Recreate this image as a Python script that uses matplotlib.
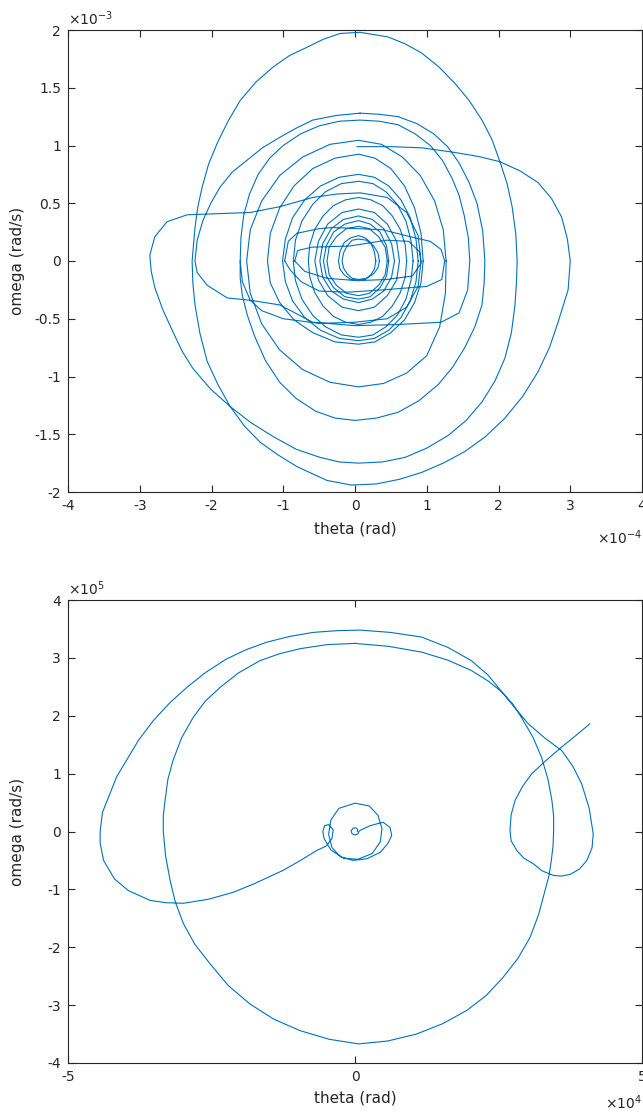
import numpy as np
import matplotlib
matplotlib.use('Agg')
import matplotlib.pyplot as plt
from matplotlib.ticker import FuncFormatter

plt.rcParams['axes.unicode_minus'] = False

# ---- top plot: theta in 1e-4 rad, omega in 1e-3 rad/s ----
top_outer = [(0.03, 0.99), (0.50, 0.99), (0.93, 0.98), (1.39, 0.94), (1.72, 0.905), (2.02, 0.86),
             (2.30, 0.78), (2.55, 0.68), (2.74, 0.54), (2.88, 0.38), (2.96, 0.19), (3.00, 0.00),
             (2.97, -0.25), (2.83, -0.53), (2.71, -0.75), (2.55, -0.96), (2.34, -1.17), (2.09, -1.36),
             (1.82, -1.52), (1.53, -1.65), (1.23, -1.75), (0.93, -1.83), (0.62, -1.89), (0.30, -1.93),
             (-0.05, -1.94), (-0.39, -1.90), (-0.81, -1.78), (-1.07, -1.68), (-1.32, -1.57),
             (-1.54, -1.43), (-1.74, -1.26), (-1.91, -1.07), (-2.06, -0.87), (-2.16, -0.63),
             (-2.23, -0.38), (-2.26, -0.19), (-2.27, 0.00), (-2.23, 0.29), (-2.19, 0.47), (-2.13, 0.64),
             (-2.04, 0.84), (-1.92, 1.02), (-1.77, 1.21), (-1.60, 1.39), (-1.38, 1.55), (-1.14, 1.68),
             (-0.91, 1.78), (-0.67, 1.85), (-0.44, 1.92), (-0.21, 1.97), (0.07, 1.98), (0.46, 1.94),
             (0.70, 1.88), (0.93, 1.80), (1.17, 1.68), (1.39, 1.54), (1.59, 1.39), (1.77, 1.22),
             (1.91, 1.05), (2.02, 0.86), (2.12, 0.67), (2.19, 0.47), (2.24, 0.24), (2.26, 0.00),
             (2.25, -0.19), (2.23, -0.38), (2.18, -0.62), (2.09, -0.84), (1.95, -1.04), (1.77, -1.22),
             (1.55, -1.38), (1.30, -1.51), (1.00, -1.62), (0.70, -1.70), (0.38, -1.74), (0.05, -1.75),
             (-0.22, -1.74), (-0.49, -1.70), (-0.82, -1.63), (-1.14, -1.52), (-1.45, -1.40),
             (-1.74, -1.26), (-2.01, -1.11), (-2.26, -0.93), (-2.41, -0.78), (-2.54, -0.61),
             (-2.68, -0.42), (-2.79, -0.23), (-2.84, -0.09), (-2.86, 0.05), (-2.79, 0.21),
             (-2.62, 0.34), (-2.34, 0.40), (-1.90, 0.41), (-1.46, 0.42), (-1.05, 0.47), (-0.59, 0.55),
             (-0.25, 0.58), (0.07, 0.59), (0.45, 0.55), (0.72, 0.42), (0.88, 0.22), (0.92, 0.00),
             (0.88, -0.22), (0.72, -0.40), (0.45, -0.50), (0.00, -0.53), (-0.50, -0.54),
             (-1.00, -0.50), (-1.30, -0.43), (-1.46, -0.34), (-1.57, -0.18), (-1.60, 0.00)]

top_b = [(0.07, 1.28), (0.34, 1.27), (0.60, 1.25), (0.86, 1.19), (1.10, 1.10), (1.29, 0.99),
         (1.45, 0.85), (1.59, 0.68), (1.70, 0.50), (1.78, 0.26), (1.81, 0.00), (1.80, -0.19),
         (1.77, -0.38), (1.67, -0.57), (1.53, -0.75), (1.36, -0.92), (1.16, -1.07), (0.89, -1.21),
         (0.60, -1.31), (0.30, -1.36), (0.00, -1.38), (-0.28, -1.36), (-0.55, -1.30), (-0.82, -1.19),
         (-1.05, -1.05), (-1.25, -0.86), (-1.40, -0.65), (-1.50, -0.47), (-1.57, -0.30),
         (-1.60, -0.15), (-1.60, 0.00), (-1.59, 0.20), (-1.55, 0.40), (-1.47, 0.58), (-1.35, 0.75),
         (-1.19, 0.89), (-1.00, 1.00), (-0.76, 1.10), (-0.50, 1.17), (-0.22, 1.21), (0.07, 1.22),
         (0.34, 1.21), (0.60, 1.18), (0.84, 1.10), (1.05, 1.00), (1.22, 0.87), (1.35, 0.72),
         (1.45, 0.57), (1.52, 0.40), (1.58, 0.20), (1.60, 0.00), (1.57, -0.25), (1.45, -0.45),
         (1.20, -0.53), (0.60, -0.55), (0.00, -0.56), (-0.59, -0.53), (-1.05, -0.38),
         (-1.46, -0.34), (-1.78, -0.32), (-2.06, -0.21), (-2.20, -0.10), (-2.23, 0.00),
         (-2.20, 0.18), (-2.12, 0.35), (-2.01, 0.50), (-1.88, 0.64), (-1.71, 0.77), (-1.51, 0.87),
         (-1.29, 0.98), (-1.05, 1.07), (-0.82, 1.15), (-0.59, 1.22), (-0.26, 1.26), (0.07, 1.28)]

top_c = [(1.27, 0.00), (1.23, 0.27), (1.11, 0.52), (0.91, 0.74), (0.66, 0.90), (0.37, 1.01),
         (0.05, 1.045), (-0.35, 1.01), (-0.73, 0.90), (-1.05, 0.74), (-1.30, 0.52), (-1.46, 0.27),
         (-1.51, 0.00), (-1.46, -0.28), (-1.30, -0.545), (-1.05, -0.77), (-0.73, -0.94),
         (-0.35, -1.05), (0.05, -1.09), (0.40, -1.06), (0.72, -0.97), (1.00, -0.82), (1.18, -0.57),
         (1.26, -0.28), (1.27, 0.00)]

top_d = [(0.95, 0.00), (0.92, 0.24), (0.83, 0.46), (0.69, 0.65), (0.50, 0.80), (0.28, 0.89),
         (0.05, 0.925), (-0.28, 0.89), (-0.59, 0.80), (-0.85, 0.65), (-1.05, 0.46), (-1.18, 0.24),
         (-1.22, 0.00), (-1.18, -0.19), (-1.05, -0.36), (-0.85, -0.51), (-0.59, -0.62),
         (-0.28, -0.70), (0.05, -0.72), (0.28, -0.70), (0.50, -0.62), (0.69, -0.51), (0.83, -0.36),
         (0.92, -0.19), (0.95, 0.00)]

top_e = [(0.88, 0.00), (0.85, 0.19), (0.77, 0.375), (0.64, 0.53), (0.47, 0.65), (0.27, 0.725),
         (0.05, 0.75), (-0.22, 0.725), (-0.48, 0.65), (-0.70, 0.53), (-0.87, 0.375), (-0.97, 0.19),
         (-1.01, 0.00), (-0.97, -0.18), (-0.87, -0.345), (-0.70, -0.49), (-0.48, -0.60),
         (-0.22, -0.67), (0.05, -0.69), (0.27, -0.67), (0.47, -0.60), (0.64, -0.49), (0.77, -0.345),
         (0.85, -0.18), (0.88, 0.00)]

top_f = [(0.81, 0.00), (0.78, 0.18), (0.71, 0.345), (0.59, 0.49), (0.43, 0.60), (0.25, 0.67),
         (0.05, 0.69), (-0.19, 0.67), (-0.41, 0.60), (-0.59, 0.49), (-0.74, 0.345), (-0.83, 0.18),
         (-0.86, 0.00), (-0.83, -0.17), (-0.74, -0.33), (-0.59, -0.47), (-0.41, -0.57),
         (-0.19, -0.64), (0.05, -0.66), (0.25, -0.64), (0.43, -0.57), (0.59, -0.47), (0.71, -0.33),
         (0.78, -0.17), (0.81, 0.00)]

top_f2 = [(0.72, 0.00), (0.70, 0.14), (0.63, 0.275), (0.52, 0.39), (0.385, 0.48), (0.22, 0.53),
          (0.05, 0.55), (-0.13, 0.53), (-0.30, 0.48), (-0.445, 0.39), (-0.56, 0.275), (-0.63, 0.14),
          (-0.65, 0.00), (-0.63, -0.14), (-0.56, -0.275), (-0.445, -0.39), (-0.30, -0.48),
          (-0.13, -0.53), (0.05, -0.55), (0.22, -0.53), (0.385, -0.48), (0.52, -0.39),
          (0.63, -0.275), (0.70, -0.14), (0.72, 0.00)]

top_g0 = [(0.62, 0.00), (0.58, 0.17), (0.45, 0.32), (0.27, 0.42), (0.05, 0.45), (-0.18, 0.42),
          (-0.38, 0.32), (-0.51, 0.17), (-0.56, 0.00), (-0.51, -0.165), (-0.38, -0.30), (-0.18, -0.40),
          (0.05, -0.43), (0.27, -0.40), (0.45, -0.30), (0.58, -0.165), (0.62, 0.00)]

top_g1 = [(0.55, 0.00), (0.51, 0.15), (0.40, 0.28), (0.24, 0.36), (0.05, 0.39), (-0.16, 0.36),
          (-0.33, 0.28), (-0.45, 0.15), (-0.49, 0.00), (-0.45, -0.14), (-0.33, -0.26), (-0.16, -0.33),
          (0.05, -0.36), (0.24, -0.33), (0.40, -0.26), (0.51, -0.14), (0.55, 0.00)]

top_g2 = [(0.47, 0.00), (0.44, 0.13), (0.35, 0.25), (0.21, 0.32), (0.05, 0.35), (-0.14, 0.32),
          (-0.30, 0.25), (-0.40, 0.13), (-0.44, 0.00), (-0.40, -0.13), (-0.30, -0.23), (-0.14, -0.31),
          (0.05, -0.33), (0.21, -0.31), (0.35, -0.23), (0.44, -0.13), (0.47, 0.00)]

top_g3 = [(0.45, 0.00), (0.42, 0.12), (0.33, 0.21), (0.20, 0.28), (0.05, 0.30), (-0.12, 0.28),
          (-0.26, 0.21), (-0.36, 0.12), (-0.39, 0.00), (-0.36, -0.12), (-0.26, -0.21), (-0.12, -0.28),
          (0.05, -0.30), (0.20, -0.28), (0.33, -0.21), (0.42, -0.12), (0.45, 0.00)]

top_h1 = [(0.29, 0.00), (0.27, 0.08), (0.22, 0.16), (0.14, 0.20), (0.05, 0.22), (-0.06, 0.20),
          (-0.15, 0.16), (-0.21, 0.08), (-0.23, 0.00), (-0.21, -0.07), (-0.15, -0.12), (-0.06, -0.16),
          (0.05, -0.17), (0.14, -0.16), (0.22, -0.12), (0.27, -0.07), (0.29, 0.00)]

top_h2 = [(0.34, 0.00), (0.32, 0.07), (0.26, 0.13), (0.16, 0.18), (0.05, 0.19), (-0.04, 0.18),
          (-0.11, 0.13), (-0.16, 0.07), (-0.18, 0.00), (-0.16, -0.06), (-0.11, -0.11), (-0.04, -0.15),
          (0.05, -0.16), (0.16, -0.15), (0.26, -0.11), (0.32, -0.06), (0.34, 0.00)]

top_r1 = [(-0.98, 0.00), (-0.93, 0.17), (-0.81, 0.24), (-0.50, 0.28), (-0.31, 0.29), (0.39, 0.27),
          (0.77, 0.21), (1.05, 0.17), (1.20, 0.10), (1.25, 0.00), (1.21, -0.16), (1.00, -0.22),
          (0.39, -0.25), (-0.10, -0.27), (-0.50, -0.26), (-0.75, -0.18), (-0.90, -0.08), (-0.98, 0.00)]

top_r2 = [(-0.84, 0.00), (-0.80, 0.09), (-0.60, 0.12), (-0.07, 0.13), (0.44, 0.18), (0.75, 0.17),
          (0.90, 0.08), (0.92, -0.02), (0.80, -0.13), (0.44, -0.16), (0.03, -0.17), (-0.39, -0.15),
          (-0.70, -0.09), (-0.84, 0.00)]

top_curves = [top_outer, top_b, top_c, top_d, top_e, top_f, top_f2, top_g0,
              top_g1, top_g2, top_g3, top_h1, top_h2, top_r1, top_r2]

# ---- bottom plot: theta in 1e4 rad, omega in 1e5 rad/s ----
bot_path = [(0.04, 0.00), (0.05, 0.03), (0.02, 0.06), (-0.03, 0.06), (-0.07, 0.01), (-0.05, -0.04),
            (0.00, -0.06), (0.05, -0.04), (0.07, 0.00), (0.09, 0.02), (0.26, 0.10), (0.49, 0.16),
            (0.61, 0.07), (0.64, -0.07), (0.57, -0.21), (0.44, -0.36), (0.21, -0.47), (-0.03, -0.50),
            (-0.25, -0.44), (-0.40, -0.28), (-0.46, -0.05), (-0.42, 0.20), (-0.28, 0.40), (0.00, 0.49),
            (0.25, 0.44), (0.40, 0.28), (0.47, 0.05), (0.44, -0.18), (0.30, -0.38), (0.05, -0.48),
            (-0.20, -0.46), (-0.42, -0.32), (-0.54, -0.12), (-0.56, 0.00), (-0.53, 0.10),
            (-0.46, 0.12), (-0.38, 0.03), (-0.40, -0.12), (-0.50, -0.25), (-0.67, -0.33),
            (-0.95, -0.50), (-1.25, -0.67), (-1.75, -0.90), (-2.12, -1.05), (-2.55, -1.17),
            (-2.99, -1.24), (-3.30, -1.23), (-3.57, -1.19), (-3.95, -1.02), (-4.19, -0.82),
            (-4.38, -0.50), (-4.44, -0.20), (-4.44, 0.00), (-4.40, 0.33), (-4.27, 0.65),
            (-4.15, 0.95), (-3.98, 1.23), (-3.77, 1.58), (-3.51, 1.92), (-3.23, 2.22), (-2.93, 2.49),
            (-2.60, 2.75), (-2.24, 2.98), (-1.90, 3.14), (-1.54, 3.27), (-1.14, 3.37), (-0.73, 3.44),
            (-0.32, 3.47), (0.09, 3.48), (0.62, 3.44), (1.16, 3.36), (1.62, 3.18), (2.03, 2.95),
            (2.32, 2.70), (2.56, 2.41), (2.80, 2.12), (3.02, 1.86), (3.30, 1.62), (3.60, 1.40),
            (3.80, 1.12), (3.95, 0.82), (4.08, 0.40), (4.15, -0.04), (4.13, -0.28), (4.04, -0.50),
            (3.91, -0.65), (3.75, -0.74), (3.60, -0.77), (3.46, -0.76), (3.26, -0.68), (3.11, -0.56),
            (2.94, -0.46), (2.82, -0.33), (2.72, -0.16), (2.70, 0.02), (2.72, 0.29), (2.79, 0.54),
            (2.92, 0.78), (3.08, 1.00), (3.32, 1.22), (3.60, 1.46), (3.85, 1.66), (4.09, 1.86)]

bot_circle = [(0.00, 3.25), (0.58, 3.20), (1.16, 3.10), (1.62, 2.96), (2.03, 2.78), (2.32, 2.60),
              (2.56, 2.41), (2.75, 2.20), (2.90, 1.97), (3.10, 1.63), (3.25, 1.28), (3.36, 0.91),
              (3.43, 0.54), (3.46, 0.27), (3.46, 0.00), (3.45, -0.25), (3.42, -0.50), (3.38, -0.76),
              (3.31, -1.02), (3.20, -1.43), (3.05, -1.83), (2.84, -2.19), (2.58, -2.52), (2.29, -2.83),
              (1.95, -3.09), (1.53, -3.32), (1.07, -3.50), (0.57, -3.62), (0.06, -3.67), (-0.45, -3.59),
              (-0.96, -3.44), (-1.42, -3.24), (-1.83, -2.98), (-2.21, -2.66), (-2.53, -2.28),
              (-2.79, -1.95), (-2.99, -1.59), (-3.13, -1.22), (-3.22, -0.85), (-3.30, -0.42),
              (-3.34, 0.00), (-3.34, 0.27), (-3.31, 0.53), (-3.26, 0.90), (-3.17, 1.23), (-3.02, 1.62),
              (-2.82, 1.97), (-2.61, 2.25), (-2.35, 2.49), (-2.03, 2.74), (-1.66, 2.95), (-1.32, 3.07),
              (-0.95, 3.16), (-0.48, 3.23), (0.00, 3.25)]

bot_curves = [bot_path, bot_circle]


def join(curves):
    # NaN between pieces so matplotlib breaks the line there
    th, om = [], []
    for c in curves:
        a = np.array(c)
        th += list(a[:, 0]) + [np.nan]
        om += list(a[:, 1]) + [np.nan]
    return np.array(th), np.array(om)


blue = '#0072BD'
dark = '#262626'

fig = plt.figure(figsize=(6.43, 11.13), dpi=100)
ax1 = fig.add_axes([68/643, 1-492/1113, 574/643, 462/1113])
ax2 = fig.add_axes([68/643, 1-1063/1113, 574/643, 463/1113])

th, om = join(top_curves)
ax1.plot(th*1e-4, om*1e-3, color=blue, lw=0.8)
ax1.set_xlim(-4e-4, 4e-4)
ax1.set_ylim(-2e-3, 2e-3)
ax1.set_xticks(np.arange(-4, 5)*1e-4)
ax1.set_yticks(np.arange(-2, 2.1, 0.5)*1e-3)
ax1.xaxis.set_major_formatter(FuncFormatter(lambda v, p: f"{v/1e-4:g}"))
ax1.yaxis.set_major_formatter(FuncFormatter(lambda v, p: f"{round(v/1e-3, 2):g}"))
ax1.text(1.0, -0.098, r'$\times10^{-4}$', transform=ax1.transAxes, ha='right', va='center',
         fontsize=10, color=dark)
ax1.text(0.0, 1.005, r'$\times10^{-3}$', transform=ax1.transAxes, ha='left', va='bottom',
         fontsize=10, color=dark)

th, om = join(bot_curves)
ax2.plot(th*1e4, om*1e5, color=blue, lw=0.8)
ax2.set_xlim(-5e4, 5e4)
ax2.set_ylim(-4e5, 4e5)
ax2.set_xticks([-5e4, 0, 5e4])
ax2.set_yticks(np.arange(-4, 5)*1e5)
ax2.xaxis.set_major_formatter(FuncFormatter(lambda v, p: f"{v/1e4:g}"))
ax2.yaxis.set_major_formatter(FuncFormatter(lambda v, p: f"{v/1e5:g}"))
ax2.text(1.0, -0.085, r'$\times10^{4}$', transform=ax2.transAxes, ha='right', va='center',
         fontsize=10, color=dark)
ax2.text(0.0, 1.005, r'$\times10^{5}$', transform=ax2.transAxes, ha='left', va='bottom',
         fontsize=10, color=dark)

for ax in (ax1, ax2):
    ax.tick_params(direction='in', top=True, right=True, length=5, width=0.8,
                   colors=dark, labelsize=10, pad=5)
    for s in ax.spines.values():
        s.set_color(dark)
        s.set_linewidth(0.8)
    ax.set_xlabel('theta (rad)', fontsize=11, color=dark)
    ax.set_ylabel('omega (rad/s)', fontsize=11, color=dark)
    ax.yaxis.set_label_coords(-0.075, 0.5)

ax1.xaxis.set_label_coords(0.5, -0.063)
ax2.xaxis.set_label_coords(0.5, -0.060)

fig.savefig('out.png', dpi=100)
